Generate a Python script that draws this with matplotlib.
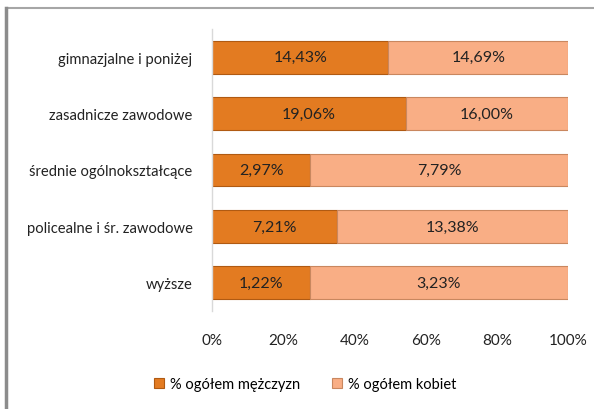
import matplotlib
matplotlib.use("Agg")
import matplotlib.pyplot as plt
from matplotlib.lines import Line2D
import numpy as np

categories = [
    "gimnazjalne i poniżej",
    "zasadnicze zawodowe",
    "średnie ogólnokształcące",
    "policealne i śr. zawodowe",
    "wyższe",
]
men = [14.43, 19.06, 2.97, 7.21, 1.22]
women = [14.69, 16.00, 7.79, 13.38, 3.23]
series_names = ["% ogółem mężczyzn", "% ogółem kobiet"]

plt.rcParams["font.family"] = ["Lato", "DejaVu Sans"]

men = np.array(men)
women = np.array(women)
total = men + women
men_share = men / total * 100
women_share = women / total * 100

fig = plt.figure(figsize=(5.94, 4.10), dpi=100)
ax = fig.add_axes([212 / 594, 1 - 312 / 410, (568 - 212) / 594, 282 / 410])

y = np.arange(len(categories))
h = 0.58
ax.barh(y, men_share, height=h, color="#E37B21", edgecolor="#B05A12",
        linewidth=0.8, label=series_names[0])
ax.barh(y, women_share, left=men_share, height=h, color="#F9AE85",
        edgecolor="#C9875F", linewidth=0.8, label=series_names[1])

for i in range(len(categories)):
    ax.text(men_share[i] / 2, y[i], f"{men[i]:.2f}%".replace(".", ","),
            ha="center", va="center", fontsize=11.5, color="#222222")
    ax.text(men_share[i] + women_share[i] / 2, y[i],
            f"{women[i]:.2f}%".replace(".", ","),
            ha="center", va="center", fontsize=11.5, color="#222222")

ax.set_xlim(0, 100)
ax.set_ylim(len(categories) - 0.5, -0.5)
ax.set_yticks(y)
ax.set_yticklabels(categories, fontsize=10.6, color="#222222")
ax.set_xticks([0, 20, 40, 60, 80, 100])
ax.set_xticklabels([f"{v}%" for v in range(0, 101, 20)], fontsize=11, color="#222222")
ax.tick_params(axis="y", length=0, pad=14)
ax.tick_params(axis="x", length=0, pad=16)
for s in ["top", "right", "bottom"]:
    ax.spines[s].set_visible(False)
ax.spines["left"].set_color("#D9D9D9")
ax.spines["left"].set_linewidth(1)

ax.legend(loc="center", bbox_to_anchor=(305 / 594, 1 - 385 / 410),
          bbox_transform=fig.transFigure, ncol=2, frameon=False, fontsize=10.5,
          handlelength=0.7, handleheight=0.7, handletextpad=0.4, columnspacing=2.2)

# outer frame pieces visible in the cropped screenshot
fig.add_artist(Line2D([7 / 594, 1], [1 - 9 / 410, 1 - 9 / 410],
                      transform=fig.transFigure, color="#A6A6A6", lw=1.5))
fig.add_artist(Line2D([6 / 594, 6 / 594], [0, 1 - 9 / 410],
                      transform=fig.transFigure, color="#8C8C8C", lw=2.5))

fig.savefig("out.png", dpi=100)
